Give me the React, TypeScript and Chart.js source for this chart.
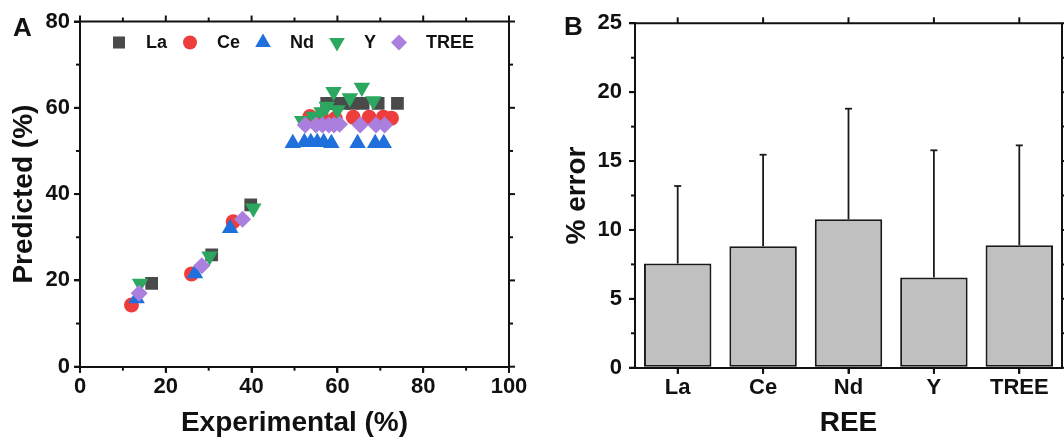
import React, { useEffect, useRef } from 'react';
import { Chart, registerables } from 'chart.js';
import { drawPoint } from 'chart.js/helpers';

Chart.register(...registerables);

const FONT = "'Liberation Sans', Arial, Helvetica, sans-serif";
const INK = '#111111';

// ---------- Panel A data (Experimental %, Predicted %) ----------
const seriesNames = ['La', 'Ce', 'Nd', 'Y', 'TREE'];
const seriesColors = ['#4a4a4a', '#ee3d3d', '#1f6fdc', '#2ba760', '#ab7fde'];
const seriesShapes = ['rect', 'circle', 'triangle', 'triangle', 'rectRot'];
const seriesRotation = [0, 0, 0, 180, 0];
const seriesRadius = [9, 7.5, 9.5, 9.5, 8.5];

const laExp = [16.7, 30.7, 39.8, 57.5, 59.5, 61.5, 63.5, 66.0, 69.5, 74.0];
const laPred = [19.3, 25.9, 37.5, 61.0, 61.0, 61.0, 61.0, 61.0, 61.0, 61.0];
const ceExp = [12.0, 26.0, 35.7, 53.6, 56.5, 59.5, 63.7, 67.4, 70.7, 72.6];
const cePred = [14.3, 21.5, 33.6, 58.0, 57.5, 57.5, 57.8, 57.8, 57.8, 57.6];
const ndExp = [13.2, 26.8, 35.0, 49.6, 52.3, 53.8, 55.3, 56.8, 58.6, 64.7, 68.8, 70.8];
const ndPred = [15.8, 21.6, 32.1, 51.8, 52.0, 52.0, 52.0, 52.0, 51.8, 51.8, 51.8, 51.8];
const yExp = [14.0, 30.2, 40.4, 51.8, 54.5, 56.3, 57.5, 59.1, 60.0, 62.9, 65.7, 68.4];
const yPred = [19.3, 25.6, 36.7, 57.0, 58.0, 59.0, 60.3, 63.7, 59.5, 62.3, 64.7, 61.6];
const treeExp = [13.8, 28.4, 37.9, 52.5, 55.0, 56.5, 58.0, 59.2, 60.5, 65.3, 69.0, 71.0];
const treePred = [17.0, 23.4, 34.2, 56.0, 56.0, 56.0, 56.0, 56.0, 56.2, 56.0, 56.0, 56.0];

const seriesExp = [laExp, ceExp, ndExp, yExp, treeExp];
const seriesPred = [laPred, cePred, ndPred, yPred, treePred];

// ---------- Panel B data ----------
const barCategories = ['La', 'Ce', 'Nd', 'Y', 'TREE'];
const barMeanError = [7.56, 8.82, 10.77, 6.55, 8.89];
const barErrorSD = [5.63, 6.64, 8.03, 9.23, 7.25];

function seg(ctx: CanvasRenderingContext2D, x1: number, y1: number, x2: number, y2: number) {
  ctx.beginPath();
  ctx.moveTo(x1, y1);
  ctx.lineTo(x2, y2);
  ctx.stroke();
}

const frameAPlugin = {
  id: 'frameA',
  afterDraw(chart: any) {
    const { ctx, chartArea, scales } = chart;
    const { left, right, top, bottom } = chartArea;
    const x = scales.x;
    const y = scales.y;
    ctx.save();
    ctx.strokeStyle = INK;
    ctx.lineWidth = 2;
    seg(ctx, left - 1, top, right + 1, top);
    seg(ctx, right, top, right, bottom + 1);
    for (let v = 0; v <= 100; v += 10) {
      const px = x.getPixelForValue(v);
      const major = v % 20 === 0;
      seg(ctx, px, top, px, top - (major ? 6 : 4));
      seg(ctx, px, bottom, px, bottom + (major ? 6 : 4));
    }
    for (let v = 0; v <= 80; v += 10) {
      const py = y.getPixelForValue(v);
      const major = v % 20 === 0;
      seg(ctx, right, py, right + (major ? 6 : 4), py);
      seg(ctx, left, py, left - (major ? 6 : 4), py);
    }
    // legend inside plot area
    ctx.font = `bold 18px ${FONT}`;
    ctx.textBaseline = 'middle';
    ctx.textAlign = 'left';
    let cx = left + 39;
    const cy = top + 21;
    chart.data.datasets.forEach((ds: any) => {
      ctx.fillStyle = ds.backgroundColor;
      drawPoint(
        ctx,
        { pointStyle: ds.pointStyle, rotation: ds.pointRotation || 0, radius: ds.pointRadius - 0.5, borderWidth: 0 } as any,
        cx,
        cy
      );
      ctx.fillStyle = INK;
      ctx.fillText(ds.label, cx + 27, cy + 1);
      cx += 27 + ctx.measureText(ds.label).width + 23;
    });
    // panel letter
    ctx.font = `bold 26px ${FONT}`;
    ctx.textBaseline = 'alphabetic';
    ctx.fillText('A', 13, 35.5);
    ctx.restore();
  },
};

const frameBPlugin = {
  id: 'frameB',
  afterDatasetsDraw(chart: any) {
    const { ctx, scales } = chart;
    const y = scales.y;
    const meta = chart.getDatasetMeta(0);
    ctx.save();
    ctx.strokeStyle = '#1a1a1a';
    ctx.lineWidth = 1.8;
    meta.data.forEach((bar: any, i: number) => {
      const yTop = y.getPixelForValue(barMeanError[i] + barErrorSD[i]);
      seg(ctx, bar.x, bar.y, bar.x, yTop);
      seg(ctx, bar.x - 3.5, yTop, bar.x + 3.5, yTop);
    });
    ctx.restore();
  },
  afterDraw(chart: any) {
    const { ctx, chartArea, scales } = chart;
    const { left, right, top, bottom } = chartArea;
    const x = scales.x;
    const y = scales.y;
    ctx.save();
    ctx.strokeStyle = INK;
    ctx.lineWidth = 2;
    seg(ctx, left - 1, top, right + 1, top);
    seg(ctx, right, top, right, bottom + 1);
    barCategories.forEach((_c, i) => {
      const px = x.getPixelForValue(i);
      seg(ctx, px, top, px, top - 6);
      seg(ctx, px, bottom, px, bottom + 6);
    });
    for (let v = 0; v <= 25; v += 2.5) {
      const py = y.getPixelForValue(v);
      const major = v % 5 === 0;
      seg(ctx, right, py, right + (major ? 6 : 4), py);
      seg(ctx, left, py, left - (major ? 6 : 4), py);
    }
    ctx.fillStyle = INK;
    ctx.font = `bold 26px ${FONT}`;
    ctx.textBaseline = 'alphabetic';
    ctx.textAlign = 'left';
    ctx.fillText('B', 564 - 532, 35);
    ctx.restore();
  },
};

export default function App() {
  const refA = useRef<HTMLCanvasElement>(null);
  const refB = useRef<HTMLCanvasElement>(null);

  useEffect(() => {
    Chart.defaults.color = INK;
    Chart.defaults.font.family = FONT;

    const tickFont = { family: FONT, size: 22, weight: 'bold' as const };
    const titleFont = { family: FONT, size: 28, weight: 'bold' as const };
    const gridOpts = {
      drawOnChartArea: false,
      drawTicks: true,
      tickLength: 6,
      color: INK,
      tickColor: INK,
      lineWidth: 2,
    };
    const borderOpts = { display: true, color: INK, width: 2 };

    const chartA = new Chart(refA.current!, {
      type: 'scatter',
      data: {
        datasets: seriesNames.map((name, i) => ({
          label: name,
          data: seriesExp[i].map((xv, j) => ({ x: xv, y: seriesPred[i][j] })),
          backgroundColor: seriesColors[i],
          borderColor: seriesColors[i],
          pointStyle: seriesShapes[i] as any,
          pointRotation: seriesRotation[i],
          pointRadius: seriesRadius[i],
          pointBorderWidth: 0,
          order: seriesNames.length - i,
        })),
      },
      options: {
        responsive: false,
        animation: false,
        events: [],
        layout: { padding: { left: 0, top: 21.5, right: 23, bottom: 0 } },
        plugins: { legend: { display: false }, tooltip: { enabled: false } },
        scales: {
          x: {
            type: 'linear',
            min: 0,
            max: 100,
            ticks: { stepSize: 20, font: tickFont, padding: 1, color: INK },
            grid: gridOpts,
            border: borderOpts,
            title: { display: true, text: 'Experimental (%)', font: titleFont, color: INK, padding: { top: 0, bottom: 0 } },
            afterFit: (s: any) => {
              s.height = 73.3;
            },
          },
          y: {
            type: 'linear',
            min: 0,
            max: 80,
            ticks: { stepSize: 20, font: tickFont, padding: 4, color: INK },
            grid: gridOpts,
            border: borderOpts,
            title: { display: true, text: 'Predicted (%)', font: titleFont, color: INK, padding: { top: 7, bottom: 0 } },
            afterFit: (s: any) => {
              s.width = 80;
            },
          },
        },
      },
      plugins: [frameAPlugin],
    });

    const chartB = new Chart(refB.current!, {
      type: 'bar',
      data: {
        labels: barCategories,
        datasets: [
          {
            label: '% error',
            data: barMeanError,
            backgroundColor: '#c0c0c0',
            borderColor: '#1a1a1a',
            borderWidth: 2,
            borderSkipped: false,
            barPercentage: 0.79,
            categoryPercentage: 1,
          },
        ],
      },
      options: {
        responsive: false,
        animation: false,
        events: [],
        layout: { padding: { left: 0, top: 23.3, right: 2, bottom: 0 } },
        plugins: { legend: { display: false }, tooltip: { enabled: false } },
        scales: {
          x: {
            type: 'category',
            offset: true,
            ticks: { font: tickFont, padding: 1, color: INK },
            grid: { ...gridOpts, offset: false },
            border: borderOpts,
            title: { display: true, text: 'REE', font: titleFont, color: INK, padding: { top: 0, bottom: 0 } },
            afterFit: (s: any) => {
              s.height = 72.3;
            },
          },
          y: {
            type: 'linear',
            min: 0,
            max: 25,
            ticks: { stepSize: 5, font: tickFont, padding: 7, color: INK },
            grid: gridOpts,
            border: borderOpts,
            title: { display: true, text: '% error', font: titleFont, color: INK, padding: { top: 28, bottom: 0 } },
            afterFit: (s: any) => {
              s.width = 103;
            },
          },
        },
      },
      plugins: [frameBPlugin],
    });

    return () => {
      chartA.destroy();
      chartB.destroy();
    };
  }, []);

  return (
    <div
      style={{
        position: 'fixed',
        left: 0,
        top: 0,
        width: 1064,
        height: 440,
        background: '#ffffff',
        display: 'flex',
        overflow: 'hidden',
      }}
    >
      <canvas ref={refA} width={532} height={440} style={{ display: 'block', width: 532, height: 440 }} />
      <canvas ref={refB} width={532} height={440} style={{ display: 'block', width: 532, height: 440 }} />
    </div>
  );
}
